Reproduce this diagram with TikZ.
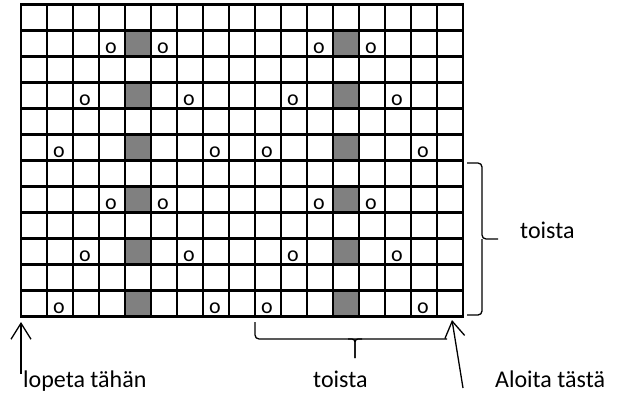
\documentclass[tikz,border=0pt]{standalone}
\usepackage{fontspec}
\setmainfont{Carlito}
\usetikzlibrary{arrows.meta}
\definecolor{cellgray}{HTML}{808080}
\tikzset{
  gridline/.style={line width=2.3pt, black},
  thinline/.style={line width=1.3pt, black},
  pointer/.style={thinline, -{Straight Barb[length=16pt,width=20pt,line width=1.3pt]}},
  lbl/.style={inner sep=0pt, font=\fontsize{24}{28}\selectfont, anchor=base west},
  omark/.style={inner sep=0pt, font=\fontsize{22}{26}\selectfont, anchor=base west}
}
\begin{document}
\begin{tikzpicture}[x=1pt,y=-1pt]
\useasboundingbox (0,0) rectangle (618,396);
\fill[white] (0,0) rectangle (618,396);
% gray cells
\foreach \r in {2,4,...,12} {
  \foreach \c in {5,13} {
    \fill[cellgray] ({21+(\c-1)*26},{4.5+(\r-1)*26}) rectangle +(26,26);
  }
}
% o marks
\foreach \r/\cols in {2/{4,6,12,14},8/{4,6,12,14},4/{3,7,11,15},10/{3,7,11,15},6/{2,8,10,16},12/{2,8,10,16}} {
  \foreach \c in \cols {
    \node[omark] (o-\r-\c) at ({21+(\c-1)*26+6},{4.5+\r*26-3.5}) {o};
  }
}
% grid
\foreach \i in {0,...,17} \draw[gridline] ({21+\i*26},4.5) -- ({21+\i*26},316.5);
\foreach \j in {0,...,12} \draw[gridline] (21,{4.5+\j*26}) -- (463,{4.5+\j*26});
\draw[gridline, line join=miter] (21,4.5) rectangle (463,316.5);
% right brace
\draw[thinline, rounded corners=4pt] (467,163) -- (482,163) -- (482,239) -- (498,239);
\draw[thinline, rounded corners=4pt] (467,315) -- (482,315) -- (482,239);
% bottom brace
\draw[thinline, rounded corners=4pt] (255,322) -- (255,339) -- (447,339);
\draw[thinline, rounded corners=3pt] (348,339) -| (355,358);
\draw[thinline, rounded corners=3pt] (362,339) -| (355,358);
% labels
\node[lbl] (repR) at (520,238) {toista};
\node[lbl] (repB) at (313,387) {toista};
\node[lbl] (stop) at (23,387) {lopeta tähän};
\node[lbl] (start) at (495,387) {Aloita tästä};
% arrows
\coordinate (stopTip) at (21,322);
\coordinate (stopTail) at (21,374);
\coordinate (startTip) at (452,320);
\coordinate (startTail) at (463,388);
\draw[pointer] (stopTail) -- (stopTip);
\draw[pointer] (startTail) -- (startTip);
\end{tikzpicture}
\end{document}
